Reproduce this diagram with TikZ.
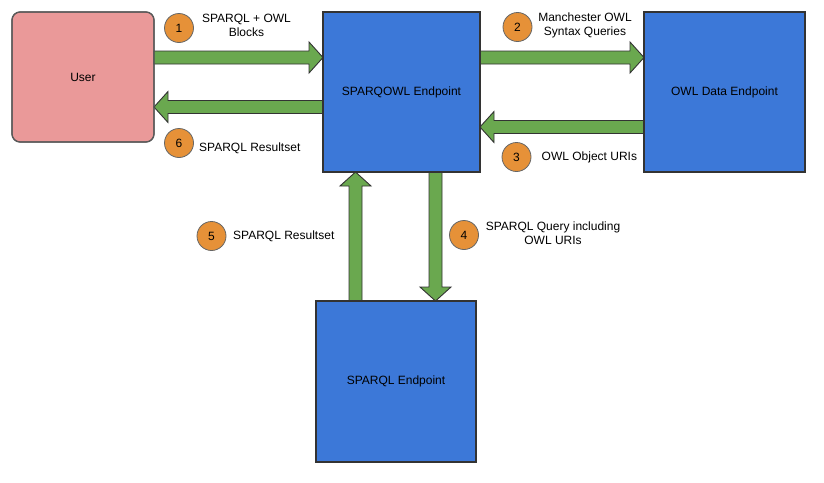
\documentclass[tikz,border=0pt]{standalone}
\usepackage{fontspec}
\setmainfont{Liberation Sans}
\usetikzlibrary{calc}
\definecolor{userpink}{HTML}{EA9999}
\definecolor{boxblue}{HTML}{3C78D8}
\definecolor{arrgreen}{HTML}{6AA84F}
\definecolor{numorange}{HTML}{E69138}
\definecolor{edgegray}{HTML}{333333}
\newcommand{\myblockarrow}[2]{%
  \coordinate (hbase) at ($(#2)!14pt!(#1)$);
  \filldraw[arrowshape] ($(#1)!6.5pt!90:(#2)$) -- ($(hbase)!6.5pt!-90:(#1)$) -- ($(hbase)!15.5pt!-90:(#1)$) -- (#2) -- ($(hbase)!15.5pt!90:(#1)$) -- ($(hbase)!6.5pt!90:(#1)$) -- ($(#1)!6.5pt!-90:(#2)$) -- cycle;}
\tikzset{
  arrowshape/.style={fill=arrgreen, draw=edgegray, line width=0.9pt, line join=miter},
  userbox/.style={rectangle, rounded corners=8pt, fill=userpink, draw=black!65, line width=1.2pt, outer sep=0pt, font=\fontsize{12}{13}\selectfont},
  bluebox/.style={rectangle, fill=boxblue, draw=edgegray, line width=2pt, outer sep=0pt, font=\fontsize{12}{13}\selectfont},
  numcircle/.style={circle, fill=numorange, draw=black!60, line width=0.8pt, minimum size=29pt, inner sep=0pt, font=\fontsize{12}{13}\selectfont},
  lbl/.style={inner sep=0pt, align=center, font=\fontsize{12}{13.5}\selectfont}
}
\begin{document}
\begin{tikzpicture}[x=1pt, y=-1pt]
\useasboundingbox (0,0) rectangle (824,482);
\fill[white] (0,0) rectangle (824,482);
% boxes
\node[userbox, minimum width=142pt, minimum height=130pt] (user) at (83,77) {User};
\node[bluebox, minimum width=157pt, minimum height=160pt] (sq) at (401.5,92) {SPARQOWL Endpoint};
\node[bluebox, minimum width=161pt, minimum height=160pt] (owl) at (724.5,92) {OWL Data Endpoint};
\node[bluebox, minimum width=160pt, minimum height=161pt] (sp) at (396,381.5) {SPARQL Endpoint};
% reference lines for arrows
\coordinate (ya) at (0,57.5);
\coordinate (yb) at (0,107);
\coordinate (yc) at (0,127);
\coordinate (xd) at (435.5,0);
\coordinate (xe) at (355.5,0);
\coordinate (a1s) at (user.east |- ya);
\coordinate (a1e) at (sq.west |- ya);
\coordinate (a6s) at (sq.west |- yb);
\coordinate (a6e) at (user.east |- yb);
\coordinate (a2s) at (sq.east |- ya);
\coordinate (a2e) at (owl.west |- ya);
\coordinate (a3s) at (owl.west |- yc);
\coordinate (a3e) at (sq.east |- yc);
\coordinate (a4s) at (xd |- sq.south);
\coordinate (a4e) at (xd |- sp.north);
\coordinate (a5s) at (xe |- sp.north);
\coordinate (a5e) at (xe |- sq.south);
\begin{scope}[on background layer/.style={}]
\myblockarrow{a1s}{a1e}
\myblockarrow{a6s}{a6e}
\myblockarrow{a2s}{a2e}
\myblockarrow{a3s}{a3e}
\myblockarrow{a4s}{a4e}
\myblockarrow{a5s}{a5e}
\end{scope}
% redraw box borders on top of arrow ends
\draw[edgegray, line width=2pt] (sq.south west) rectangle (sq.north east);
\draw[edgegray, line width=2pt] (owl.south west) rectangle (owl.north east);
\draw[edgegray, line width=2pt] (sp.south west) rectangle (sp.north east);
\draw[black!65, line width=1.2pt, rounded corners=8pt] (user.south west) rectangle (user.north east);
% number circles
\node[numcircle] (c1) at (179,28) {1};
\node[numcircle] (c2) at (517.5,27) {2};
\node[numcircle] (c3) at (516.5,157) {3};
\node[numcircle] (c4) at (464,235) {4};
\node[numcircle] (c5) at (211.5,236) {5};
\node[numcircle] (c6) at (179,143) {6};
% labels
\node[lbl] (l1) at (246.5,25.5) {SPARQL + OWL\\Blocks};
\node[lbl] (l2) at (585,25.5) {Manchester OWL\\Syntax Queries};
\node[lbl, anchor=west] (l6) at (199,148) {SPARQL Resultset};
\node[lbl, anchor=west] (l3) at (541.5,157) {OWL Object URIs};
\node[lbl, anchor=west] (l5) at (233,236) {SPARQL Resultset};
\node[lbl] (l4) at (553,233) {SPARQL Query including\\OWL URIs};
\end{tikzpicture}
\end{document}
